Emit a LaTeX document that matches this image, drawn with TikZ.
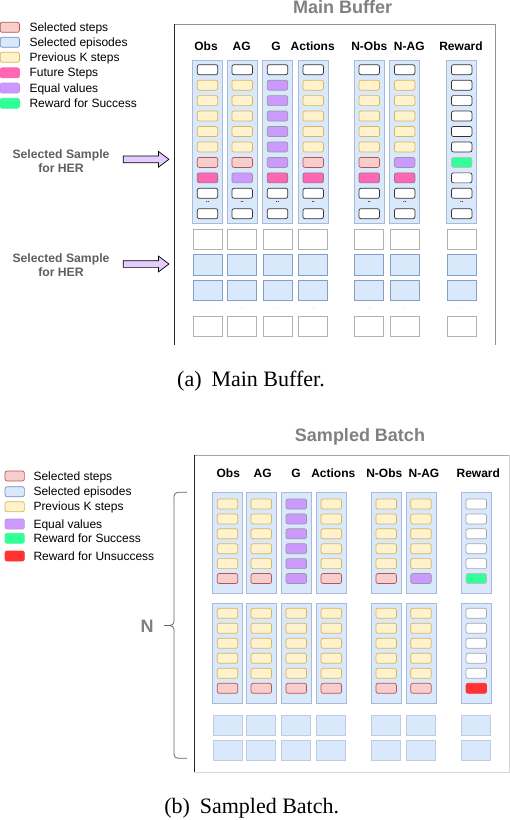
\documentclass[tikz,border=0pt]{standalone}
\usepackage{fontspec}
\setmainfont{Liberation Sans}
\newfontfamily\capfont{Liberation Serif}
\usetikzlibrary{shapes.arrows}
\definecolor{yelF}{HTML}{FFF2CC}\definecolor{yelD}{HTML}{D6B656}
\definecolor{pinkF}{HTML}{F8CECC}\definecolor{pinkD}{HTML}{B85450}
\definecolor{bluF}{HTML}{DAE8FC}\definecolor{bluD}{HTML}{6C8EBF}
\definecolor{magF}{HTML}{FF66B3}\definecolor{purF}{HTML}{CC99FF}
\definecolor{grnF}{HTML}{33FF99}\definecolor{redF}{HTML}{FF3333}
\definecolor{arrF}{HTML}{E5CCFF}
\definecolor{titleG}{HTML}{808080}\definecolor{herG}{HTML}{5F5F5F}
\begin{document}
\begin{tikzpicture}[x=1pt,y=-1pt,
  cell/.style={rectangle, rounded corners=2pt, minimum width=20.5pt, minimum height=10pt, inner sep=0pt, line width=0.7pt},
  cellW/.style={cell, fill=white, draw=black!80},
  cellV/.style={cell, fill=white, draw=gray!70},
  cellY/.style={cell, fill=yelF, draw=yelD},
  cellP/.style={cell, fill=pinkF, draw=pinkD},
  cellM/.style={cell, fill=magF, draw=gray},
  cellU/.style={cell, fill=purF, draw=gray!80},
  cellG/.style={cell, fill=grnF, draw=gray!50},
  cellR/.style={cell, fill=redF, draw=redF},
  colbg/.style={rectangle, fill=bluF, draw=bluD!60, line width=0.8pt, minimum width=30pt, inner sep=0pt},
  blkW/.style={rectangle, fill=white, draw=gray!60, line width=0.8pt, minimum width=29pt, minimum height=20.4pt, inner sep=0pt},
  blkB/.style={rectangle, fill=bluF, draw=bluD!85, line width=0.8pt, minimum width=29pt, minimum height=20.4pt, inner sep=0pt},
  blkS/.style={rectangle, fill=bluF, draw=bluD!45, line width=0.8pt, minimum width=29pt, minimum height=20pt, inner sep=0pt},
  hdr/.style={font=\bfseries\fontsize{12}{14}\selectfont, anchor=base, inner sep=0pt},
  ttl/.style={font=\bfseries\fontsize{18}{20}\selectfont, text=titleG, anchor=base, inner sep=0pt},
  lgsw/.style={rectangle, rounded corners=2pt, minimum width=19.3pt, minimum height=10pt, inner sep=0pt, line width=0.7pt},
  lgtx/.style={font=\fontsize{12}{14}\selectfont, anchor=base west, inner sep=0pt},
  her/.style={font=\bfseries\fontsize{12.2}{14}\selectfont, text=herG, align=center, inner sep=0pt},
  herarrow/.style={single arrow, draw=black, fill=arrF, line width=0.7pt, inner sep=0pt, text height=6pt, text depth=0pt, text width=0pt, minimum height=45.7pt, single arrow head extend=4.5pt, single arrow tip angle=74},
  dotsD/.style={font=\bfseries\fontsize{6}{6}\selectfont, inner sep=0pt},
  dotsL/.style={font=\fontsize{6}{6}\selectfont, text=gray!40, inner sep=0pt},
  braceline/.style={draw=black!60, line width=0.8pt, rounded corners=4pt},
  capt/.style={font=\capfont\fontsize{22}{24}\selectfont, anchor=base, inner sep=0pt}
]
\useasboundingbox (0,0) rectangle (510,820);

% ---------------- Legend 1 ----------------
\node[lgsw, fill=pinkF, draw=pinkD] (la1) at (9.8,27.3) {};
\node[lgsw, fill=bluF, draw=bluD] (la2) at (9.8,42.3) {};
\node[lgsw, fill=yelF, draw=yelD] (la3) at (9.8,57.3) {};
\node[lgsw, fill=magF, draw=magF] (la4) at (9.8,72.8) {};
\node[lgsw, fill=purF, draw=purF!80!gray] (la5) at (9.8,88) {};
\node[lgsw, fill=grnF, draw=grnF] (la6) at (9.8,103.3) {};
\node[lgtx] (lt1) at (29.3,31.5) {Selected steps};
\node[lgtx] (lt2) at (29.3,46.5) {Selected episodes};
\node[lgtx] (lt3) at (29.3,61.5) {Previous K steps};
\node[lgtx] (lt4) at (29.3,76.8) {Future Steps};
\node[lgtx] (lt5) at (29.3,92) {Equal values};
\node[lgtx] (lt6) at (29.3,107.5) {Reward for Success};

% ---------------- Main buffer ----------------
\node[ttl] (mbtitle) at (342.7,13.3) {Main Buffer};
\draw[draw=gray!85, line width=0.8pt] (174,24.3) -- (495,24.3) -- (495,345);
\draw[draw=black!85, line width=0.8pt] (174,24.3) -- (174,345);

\foreach \cx/\hx/\nm/\hd/\codes in {
  207.5/206/obs/Obs/{W,Y,Y,Y,Y,Y,P,M,W},
  242.2/241.7/ag/AG/{W,Y,Y,Y,Y,Y,P,U,W},
  277.5/276/g/G/{W,U,U,U,U,U,U,M,W},
  313.2/312.7/act/Actions/{W,Y,Y,Y,Y,Y,P,M,W},
  369.2/369.3/nobs/N-Obs/{W,Y,Y,Y,Y,Y,P,M,W},
  404.7/409.3/nag/N-AG/{W,Y,Y,Y,Y,Y,U,M,W},
  461.7/461/rew/Reward/{W,W,W,W,W,W,G,W,W}}{
  \node[hdr] (mb-\nm-h) at (\hx,50.7) {\hd};
  \node[colbg, minimum height=163.3pt] (mb-\nm) at (\cx,141.65) {};
  \foreach \k [count=\i] in \codes {
    \node[cell\k] (mb-\nm-\i) at (\cx,{69.7+(\i-1)*15.45}) {};
  }
  \node[dotsD] (mb-\nm-dots) at (\cx,202.5) {..};
  \node[cellW] (mb-\nm-10) at (\cx,213.7) {};
  \node[blkW] (mb-\nm-a) at (\cx,239.2) {};
  \node[blkB, minimum height=21.4pt] (mb-\nm-b) at (\cx,265) {};
  \node[blkB] (mb-\nm-c) at (\cx,290.5) {};
  \node[dotsL] (mb-\nm-dd) at (\cx,308) {..};
  \node[blkW] (mb-\nm-d) at (\cx,326.5) {};
}

% HER labels and arrows
\node[her] (her1) at (61,161) {Selected Sample\\for HER};
\node[herarrow] (her1arrow) at (143.85,159.3) {};
\node[her] (her2) at (61,265) {Selected Sample\\for HER};
\node[herarrow] (her2arrow) at (143.85,264) {};

\node[capt] (capa) at (251,386) {(a)\hspace{0.45em}Main Buffer.};

% ---------------- Legend 2 ----------------
\node[lgsw, fill=pinkF, draw=pinkD] (lb1) at (14.7,476) {};
\node[lgsw, fill=bluF, draw=bluD] (lb2) at (14.7,491.7) {};
\node[lgsw, fill=yelF, draw=yelD] (lb3) at (14.7,506.7) {};
\node[lgsw, fill=purF, draw=purF!80!gray] (lb4) at (14.7,524) {};
\node[lgsw, fill=grnF, draw=grnF] (lb5) at (14.7,538.3) {};
\node[lgsw, fill=redF, draw=redF] (lb6) at (14.7,556) {};
\node[lgtx] (lu1) at (33.3,480) {Selected steps};
\node[lgtx] (lu2) at (33.3,495.7) {Selected episodes};
\node[lgtx] (lu3) at (33.3,510.7) {Previous K steps};
\node[lgtx] (lu4) at (33.3,528) {Equal values};
\node[lgtx] (lu5) at (33.3,542.3) {Reward for Success};
\node[lgtx] (lu6) at (33.3,560) {Reward for Unsuccess};

% ---------------- Sampled batch ----------------
\node[ttl] (sbtitle) at (360,441.7) {Sampled Batch};
\draw[draw=gray!30, line width=0.8pt] (194.3,772.3) -- (509.3,772.3) -- (509.3,455);
\draw[draw=gray!70, line width=0.8pt] (194.3,455) -- (509.3,455);
\draw[draw=black!85, line width=0.8pt] (194.3,455) -- (194.3,772.3);

\foreach \cx/\hx/\nm/\hd/\codesA/\codesB in {
  227.5/228.3/obs/Obs/{Y,Y,Y,Y,Y,P}/{Y,Y,Y,Y,Y,P},
  261.3/262.7/ag/AG/{Y,Y,Y,Y,Y,P}/{Y,Y,Y,Y,Y,P},
  296.3/296/g/G/{U,U,U,U,U,U}/{Y,Y,Y,Y,Y,P},
  331.3/333.3/act/Actions/{Y,Y,Y,Y,Y,P}/{Y,Y,Y,Y,Y,P},
  386.2/384.3/nobs/N-Obs/{Y,Y,Y,Y,Y,P}/{Y,Y,Y,Y,Y,P},
  421/424/nag/N-AG/{Y,Y,Y,Y,Y,U}/{Y,Y,Y,Y,Y,P},
  476.3/478.3/rew/Reward/{V,V,V,V,V,G}/{V,V,V,V,V,R}}{
  \node[hdr] (sb-\nm-h) at (\hx,477.5) {\hd};
  \node[colbg, minimum height=101pt] (sa-\nm) at (\cx,542.8) {};
  \foreach \k [count=\i] in \codesA {
    \node[cell\k] (sa-\nm-\i) at (\cx,{504+(\i-1)*14.9}) {};
  }
  \node[colbg, minimum height=100pt] (sb-\nm) at (\cx,653.3) {};
  \foreach \k [count=\i] in \codesB {
    \node[cell\k] (sb-\nm-\i) at (\cx,{613.3+(\i-1)*15}) {};
  }
  \node[blkS] (sc-\nm-a) at (\cx,725) {};
  \node[blkS] (sc-\nm-b) at (\cx,750) {};
}

% brace and N
\coordinate (brT) at (187,492.3);
\coordinate (brM) at (164.3,625.5);
\coordinate (brB) at (187,758.3);
\draw[braceline] (brT) -- (174,492.3) -- (174,625.5) -- (brM);
\draw[braceline] (brM) -- (174,625.5) -- (174,758.3) -- (brB);
\node[font=\bfseries\fontsize{18}{20}\selectfont, text=titleG, inner sep=0pt] (nlabel) at (147,626.7) {N};

\node[capt] (capb) at (251.7,813.3) {(b)\hspace{0.45em}Sampled Batch.};
\end{tikzpicture}
\end{document}
